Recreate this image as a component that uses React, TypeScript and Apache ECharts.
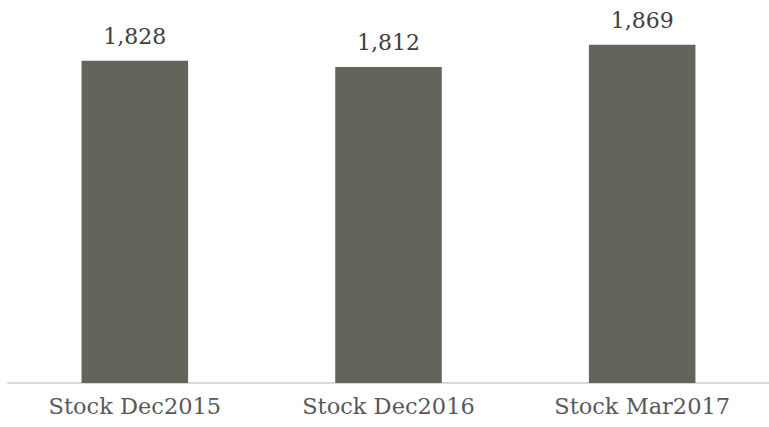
import React, { useEffect, useRef } from "react";
import * as echarts from "echarts";

const categories = ["Stock Dec2015", "Stock Dec2016", "Stock Mar2017"];
const stockValues = [1828, 1812, 1869];

export default function App() {
  const ref = useRef<HTMLDivElement>(null);
  useEffect(() => {
    document.body.style.margin = "0";
    const chart = echarts.init(ref.current!, null, { renderer: "svg" });
    chart.setOption({
      animation: false,
      grid: { left: 8, right: -1, top: 0, bottom: 44, containLabel: false },
      xAxis: {
        type: "category",
        data: categories,
        axisLine: { show: true, lineStyle: { color: "#d9d9d9", width: 2 } },
        axisTick: { show: false },
        axisLabel: {
          color: "#595959",
          fontFamily: "DejaVu Serif",
          fontSize: 22.5,
          margin: 11,
        },
      },
      yAxis: {
        type: "value",
        min: 1000,
        max: 1984,
        show: false,
        splitLine: { show: false },
      },
      series: [
        {
          type: "bar",
          data: stockValues,
          barCategoryGap: "58%",
          itemStyle: { color: "#63645a" },
          label: {
            show: true,
            position: "top",
            distance: 13,
            color: "#404040",
            fontFamily: "DejaVu Serif",
            fontSize: 22,
            formatter: (p: any) => p.value.toLocaleString("en-US"),
          },
        },
      ],
    });
    return () => chart.dispose();
  }, []);
  return <div ref={ref} style={{ width: 769, height: 427 }} />;
}
